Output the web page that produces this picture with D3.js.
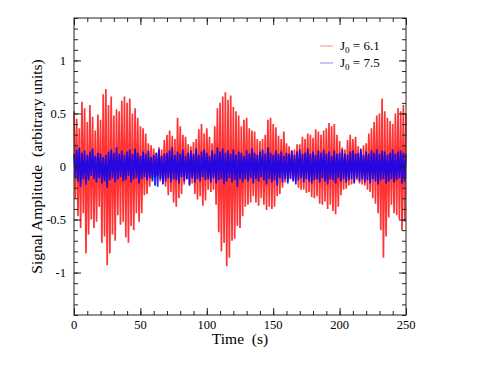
<!DOCTYPE html>
<html>
<head>
<meta charset="utf-8">
<script src="https://cdn.jsdelivr.net/npm/d3@7"></script>
<style>
  body { margin: 0; background: #fff; }
  text { font-family: "Liberation Serif", "Times New Roman", serif; fill: #000; }
</style>
</head>
<body>
<svg></svg>
<script>
// ====== Données ====== //
// pas de temps entre deux échantillons (s)
const timeStep = 1;

// J0 = 6.1 (rouge)
const signalRed = [
  0.52,-0.30,0.45,-0.47,0.36,-0.58,0.61,-0.44,0.55,-0.82,
  0.42,-0.64,0.58,-0.50,0.47,-0.58,0.34,-0.52,0.49,-0.38,
  0.44,-0.72,0.68,-0.66,0.73,-0.93,0.58,-0.82,0.66,-0.64,
  0.48,-0.70,0.54,-0.46,0.52,-0.55,0.62,-0.52,0.66,-0.67,
  0.60,-0.72,0.64,-0.56,0.50,-0.60,0.55,-0.44,0.46,-0.52,
  0.38,-0.44,0.36,-0.27,0.31,-0.26,0.22,-0.19,0.20,-0.12,
  0.17,-0.10,0.13,-0.09,0.18,-0.14,0.16,-0.16,0.25,-0.19,
  0.30,-0.27,0.34,-0.24,0.29,-0.34,0.26,-0.38,0.46,-0.30,
  0.38,-0.26,0.30,-0.17,0.28,-0.12,0.21,-0.17,0.19,-0.16,
  0.23,-0.26,0.26,-0.31,0.35,-0.28,0.40,-0.37,0.31,-0.32,
  0.36,-0.22,0.28,-0.24,0.22,-0.22,0.38,-0.36,0.55,-0.62,
  0.60,-0.80,0.66,-0.72,0.70,-0.94,0.63,-0.86,0.67,-0.70,
  0.56,-0.68,0.52,-0.56,0.48,-0.58,0.38,-0.47,0.44,-0.38,
  0.46,-0.36,0.36,-0.34,0.34,-0.28,0.33,-0.34,0.26,-0.37,
  0.24,-0.30,0.26,-0.36,0.30,-0.41,0.44,-0.38,0.46,-0.40,
  0.40,-0.38,0.37,-0.28,0.29,-0.26,0.26,-0.20,0.33,-0.15,
  0.22,-0.14,0.19,-0.11,0.15,-0.13,0.16,-0.14,0.21,-0.20,
  0.21,-0.22,0.28,-0.22,0.26,-0.25,0.31,-0.24,0.30,-0.29,
  0.27,-0.30,0.35,-0.28,0.33,-0.35,0.30,-0.36,0.34,-0.33,
  0.36,-0.40,0.41,-0.36,0.38,-0.42,0.40,-0.45,0.30,-0.38,
  0.24,-0.27,0.18,-0.22,0.16,-0.21,0.25,-0.18,0.30,-0.17,
  0.26,-0.15,0.28,-0.13,0.19,-0.16,0.15,-0.17,0.20,-0.18,
  0.22,-0.22,0.31,-0.24,0.36,-0.30,0.42,-0.35,0.48,-0.44,
  0.50,-0.60,0.64,-0.86,0.52,-0.66,0.46,-0.48,0.43,-0.36,
  0.40,-0.44,0.50,-0.46,0.55,-0.50,0.52,-0.60,0.58,-0.52,
  0.50
];

// J0 = 7.5 (bleu)
const signalBlue = [
  0.12,-0.10,0.16,-0.14,0.18,-0.19,0.13,-0.12,0.15,-0.17,
  0.11,-0.13,0.14,-0.09,0.17,-0.12,0.10,-0.15,0.13,-0.11,
  0.12,-0.16,0.09,-0.14,0.11,-0.20,0.14,-0.13,0.16,-0.11,
  0.13,-0.15,0.18,-0.12,0.12,-0.10,0.15,-0.14,0.11,-0.13,
  0.14,-0.09,0.16,-0.15,0.12,-0.12,0.17,-0.11,0.13,-0.16,
  0.10,-0.12,0.14,-0.10,0.12,-0.13,0.15,-0.11,0.09,-0.14,
  0.11,-0.18,0.13,-0.19,0.16,-0.12,0.10,-0.17,0.12,-0.14,
  0.13,-0.11,0.15,-0.15,0.18,-0.12,0.11,-0.13,0.14,-0.16,
  0.12,-0.10,0.16,-0.14,0.10,-0.12,0.13,-0.18,0.15,-0.11,
  0.12,-0.15,0.17,-0.12,0.11,-0.14,0.14,-0.10,0.16,-0.13,
  0.13,-0.12,0.10,-0.15,0.15,-0.11,0.12,-0.16,0.18,-0.13,
  0.14,-0.12,0.17,-0.17,0.13,-0.14,0.15,-0.11,0.12,-0.15,
  0.16,-0.13,0.11,-0.19,0.14,-0.12,0.13,-0.15,0.10,-0.12,
  0.15,-0.14,0.12,-0.11,0.17,-0.16,0.13,-0.12,0.11,-0.14,
  0.14,-0.10,0.16,-0.13,0.12,-0.17,0.18,-0.12,0.13,-0.15,
  0.11,-0.13,0.15,-0.18,0.12,-0.11,0.14,-0.15,0.10,-0.12,
  0.13,-0.16,0.12,-0.12,0.15,-0.14,0.11,-0.17,0.14,-0.13,
  0.16,-0.11,0.12,-0.15,0.13,-0.12,0.17,-0.14,0.12,-0.16,
  0.14,-0.13,0.11,-0.12,0.15,-0.15,0.13,-0.11,0.16,-0.14,
  0.12,-0.17,0.14,-0.12,0.10,-0.13,0.15,-0.16,0.12,-0.11,
  0.13,-0.14,0.16,-0.12,0.12,-0.15,0.11,-0.13,0.14,-0.12,
  0.15,-0.16,0.12,-0.11,0.13,-0.14,0.17,-0.12,0.11,-0.15,
  0.14,-0.13,0.12,-0.16,0.15,-0.12,0.13,-0.14,0.16,-0.17,
  0.12,-0.13,0.15,-0.12,0.14,-0.16,0.11,-0.14,0.13,-0.12,
  0.16,-0.15,0.12,-0.13,0.14,-0.11,0.15,-0.16,0.13,-0.14,
  0.12
];

// ticks et légende
const xTicks = [0, 50, 100, 150, 200, 250];
const yTicks = [-1, -0.5, 0, 0.5, 1];
const legendLabels = [{j: "0", val: " = 6.1"}, {j: "0", val: " = 7.5"}];

// ====== Dimensions ====== //
const width = 480;
const height = 371;
const margin = { top: 18, right: 74, bottom: 56, left: 74 };
const innerW = width - margin.left - margin.right;
const innerH = height - margin.top - margin.bottom;

const svg = d3.select("svg")
    .attr("width", width)
    .attr("height", height);

const x = d3.scaleLinear().domain([0, 250]).range([margin.left, margin.left + innerW]);
const y = d3.scaleLinear().domain([-1.4, 1.4]).range([margin.top + innerH, margin.top]);

// ====== Courbes ====== //
const line = d3.line()
    .x((d, i) => x(i * timeStep))
    .y(d => y(d));

svg.append("path")
    .datum(signalRed)
    .attr("d", line)
    .attr("fill", "none")
    .attr("stroke", "#ff0000")
    .attr("stroke-opacity", 0.8)
    .attr("stroke-width", 1.7);

svg.append("path")
    .datum(signalBlue)
    .attr("d", line)
    .attr("fill", "none")
    .attr("stroke", "#0000ff")
    .attr("stroke-opacity", 0.85)
    .attr("stroke-width", 1.7);

// ====== Axes (ticks vers l'intérieur, sur les 4 côtés) ====== //
const majorLen = 7, minorLen = 4;
const xMinor = d3.range(0, 251, 10);
const yMinor = d3.range(-14, 15).map(v => v / 10);

function addAxis(axisFn, scale, vals, len, pos) {
  const g = svg.append("g")
      .attr("transform", pos)
      .call(axisFn(scale).tickValues(vals).tickSize(-len).tickFormat(""));
  g.select(".domain").remove();
  g.selectAll(".tick line").attr("stroke", "#222");
}
// bas et haut
addAxis(d3.axisBottom, x, xMinor, minorLen, `translate(0,${y(-1.4)})`);
addAxis(d3.axisBottom, x, xTicks, majorLen, `translate(0,${y(-1.4)})`);
addAxis(d3.axisTop, x, xMinor, minorLen, `translate(0,${y(1.4)})`);
addAxis(d3.axisTop, x, xTicks, majorLen, `translate(0,${y(1.4)})`);
// gauche et droite
addAxis(d3.axisLeft, y, yMinor, minorLen, `translate(${x(0)},0)`);
addAxis(d3.axisLeft, y, yTicks, majorLen, `translate(${x(0)},0)`);
addAxis(d3.axisRight, y, yMinor, minorLen, `translate(${x(250)},0)`);
addAxis(d3.axisRight, y, yTicks, majorLen, `translate(${x(250)},0)`);

// cadre
svg.append("rect")
    .attr("x", x(0)).attr("y", y(1.4))
    .attr("width", x(250) - x(0)).attr("height", y(-1.4) - y(1.4))
    .attr("fill", "none").attr("stroke", "#222").attr("stroke-width", 1);

// labels des ticks
svg.selectAll(".xlab").data(xTicks).enter().append("text")
    .attr("x", d => x(d)).attr("y", y(-1.4) + 14)
    .attr("text-anchor", "middle").attr("font-size", 12.5)
    .text(d => d);

svg.selectAll(".ylab").data(yTicks).enter().append("text")
    .attr("x", x(0) - 8).attr("y", d => y(d) + 4.5)
    .attr("text-anchor", "end").attr("font-size", 12.5)
    .text(d => d3.format("")(d).replace("−", "-"));

// titres des axes
svg.append("text")
    .attr("x", (x(0) + x(250)) / 2).attr("y", 344)
    .attr("text-anchor", "middle").attr("font-size", 15.5)
    .style("white-space", "pre")
    .text("Time  (s)");

svg.append("text")
    .attr("transform", `translate(42,${(y(-1.4) + y(1.4)) / 2}) rotate(-90)`)
    .attr("text-anchor", "middle").attr("font-size", 15.5)
    .style("white-space", "pre")
    .text("Signal Amplitude  (arbitrary units)");

// ====== Légende ====== //
const legendColors = ["#ff0000", "#0000ff"];
const legend = svg.selectAll(".leg").data(legendLabels).enter().append("g")
    .attr("transform", (d, i) => `translate(320,${46 + i * 17})`);

legend.append("line")
    .attr("x1", 0).attr("x2", 13).attr("y1", 0).attr("y2", 0)
    .attr("stroke", (d, i) => legendColors[i]).attr("stroke-opacity", 0.45);

const legText = legend.append("text")
    .attr("x", 20).attr("y", 4).attr("font-size", 13);
legText.append("tspan").text("J");
legText.append("tspan").attr("dy", 3).attr("font-size", 9).text(d => d.j);
legText.append("tspan").attr("dy", -3).style("white-space", "pre").text(d => d.val);
</script>
</body>
</html>
